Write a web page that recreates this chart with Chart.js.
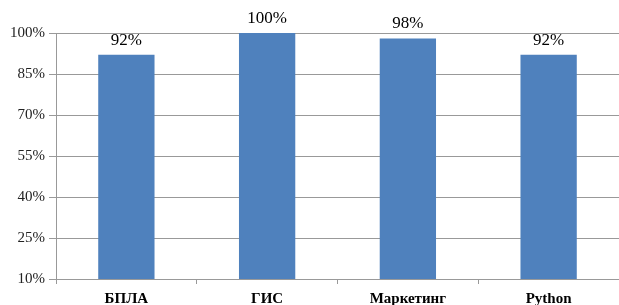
<!DOCTYPE html>
<html>
<head>
<meta charset="utf-8">
<script src="https://cdn.jsdelivr.net/npm/chart.js@4/dist/chart.umd.min.js"></script>
<style>
  html, body { margin: 0; padding: 0; background: #fff; }
  #wrap { width: 619px; height: 305px; position: relative; }
</style>
</head>
<body>
<div id="wrap"><canvas id="chart"></canvas></div>
<script>
const categories = ['БПЛА', 'ГИС', 'Маркетинг', 'Python'];
const values = [92, 100, 98, 92];
const yTicks = [10, 25, 40, 55, 70, 85, 100];

const serif = '"Liberation Serif", "Times New Roman", serif';

// value labels above bars
const valueLabels = {
    id: 'valueLabels',
    afterDatasetsDraw(chart) {
        const ctx = chart.ctx;
        const meta = chart.getDatasetMeta(0);
        ctx.save();
        ctx.font = '17px ' + serif;
        ctx.fillStyle = '#000';
        ctx.textAlign = 'center';
        ctx.textBaseline = 'alphabetic';
        meta.data.forEach(function (bar, i) {
            ctx.fillText(values[i] + '%', bar.x, bar.y - 10);
        });
        ctx.restore();
    }
};

new Chart(document.getElementById('chart').getContext('2d'), {
    type: 'bar',
    data: {
        labels: categories,
        datasets: [{
            data: values,
            backgroundColor: '#4F81BD',
            borderWidth: 0,
            barPercentage: 0.4,
            categoryPercentage: 1.0
        }]
    },
    options: {
        responsive: true,
        maintainAspectRatio: false,
        animation: false,
        layout: { padding: { top: 33, right: 0, left: 0, bottom: 0 } },
        plugins: {
            legend: { display: false },
            tooltip: { enabled: false }
        },
        scales: {
            x: {
                grid: {
                    offset: true,
                    drawOnChartArea: false,
                    drawTicks: true,
                    tickLength: 5,
                    color: '#999'
                },
                border: { color: '#999' },
                ticks: {
                    padding: 6,
                    color: '#000',
                    font: { family: serif, size: 15, weight: 'bold' }
                },
                afterFit: function (s) { s.height = 26; }
            },
            y: {
                min: 10,
                max: 100,
                afterBuildTicks: function (s) {
                    s.ticks = yTicks.map(function (v) { return { value: v }; });
                },
                grid: {
                    color: '#999',
                    tickLength: 7
                },
                border: { color: '#999' },
                ticks: {
                    padding: 4,
                    color: '#222',
                    font: { family: serif, size: 15 },
                    callback: function (v) { return v + '%'; }
                },
                afterFit: function (s) { s.width = 56; }
            }
        }
    },
    plugins: [valueLabels]
});
</script>
</body>
</html>
